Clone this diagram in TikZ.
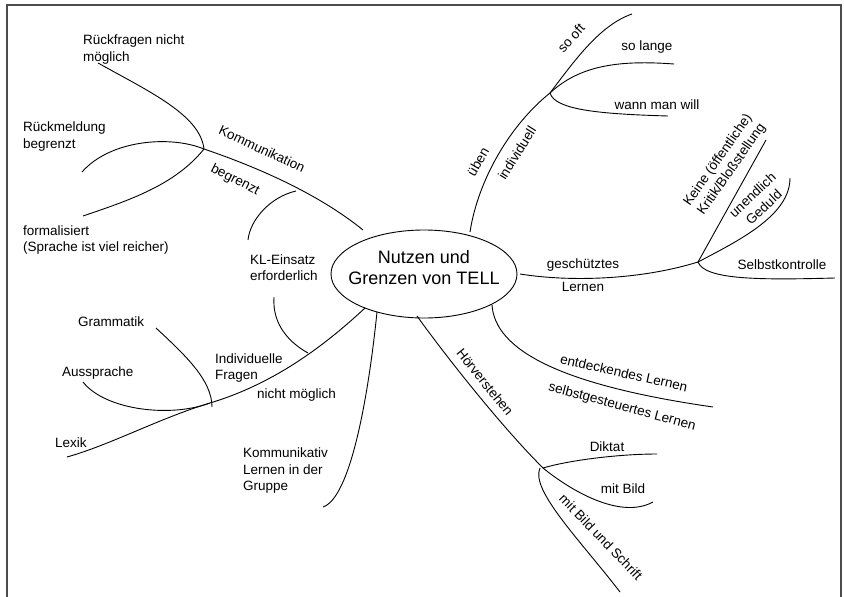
\documentclass[tikz,border=0pt]{standalone}
\usepackage{fontspec}
\setmainfont{Liberation Sans}
\usetikzlibrary{shapes.geometric}
\begin{document}
\begin{tikzpicture}[x=1pt,y=-1pt,
  branch/.style={draw=black, line width=0.9pt},
  lbl/.style={font=\fontsize{13.5}{16.5}\selectfont, inner sep=0pt, text=black},
  lblw/.style={lbl, anchor=west, align=left},
  lblc/.style={lbl, anchor=center, align=center},
  framebox/.style={draw=black!70, line width=1.6pt}]
\useasboundingbox (0,0) rectangle (844,597);
\draw[framebox] (7,597) -- (7,5) -- (841,5) -- (841,597);

% centre
\node[draw, ellipse, minimum width=186pt, minimum height=88pt, line width=0.9pt, inner sep=0pt] (c) at (424,274) {};
\node[font=\fontsize{18}{21}\selectfont, align=center, inner sep=0pt] (ct) at (424,267.5) {Nutzen und\\Grenzen von TELL};

% coordinates
\coordinate (k0) at (363,230);
\coordinate (kb) at (204,149);
\coordinate (rf) at (98,63);
\coordinate (rm) at (82,172);
\coordinate (fo) at (83,216);
\coordinate (kla) at (296,191);
\coordinate (klb) at (248,240);
\coordinate (klc) at (274,297);
\coordinate (kld) at (308,353);
\coordinate (i0) at (365,308);
\coordinate (ib) at (210,403);
\coordinate (lx) at (67,457);
\coordinate (gr) at (156,328);
\coordinate (au) at (83,382);
\coordinate (ko0) at (377,312);
\coordinate (ko1) at (323,507);
\coordinate (u0) at (470,232);
\coordinate (ub) at (550,93);
\coordinate (so) at (632,14);
\coordinate (sl) at (674,64);
\coordinate (wm) at (668,116);
\coordinate (g0) at (520,274);
\coordinate (gb) at (698,262);
\coordinate (ke) at (766,140);
\coordinate (ue) at (790,178);
\coordinate (sk) at (835,278);
\coordinate (e0) at (492,305);
\coordinate (e1) at (713,407);
\coordinate (h0) at (417,316);
\coordinate (hb) at (543,468);
\coordinate (hc) at (540,468);
\coordinate (di) at (657,454);
\coordinate (mb) at (653,502);
\coordinate (ms) at (620,592);

% Kommunikation
\draw[branch] (k0) .. controls (320,195) and (260,168) .. (kb);
\draw[branch] (rf) .. controls (150,92) and (200,115) .. (kb);
\draw[branch] (rm) .. controls (110,140) and (170,135) .. (kb);
\draw[branch] (fo) .. controls (130,200) and (175,185) .. (kb);
% KL-Einsatz
\draw[branch] (kla) .. controls (270,197) and (250,220) .. (klb);
\draw[branch] (klc) .. controls (272,325) and (290,343) .. (kld);
% Individuelle Fragen
\draw[branch] (i0) .. controls (320,350) and (270,385) .. (ib) .. controls (160,418) and (110,445) .. (lx);
\draw[branch] (gr) .. controls (185,355) and (212,380) .. (212,407);
\draw[branch] (au) .. controls (105,410) and (170,418) .. (ib);
% Kommunikativ
\draw[branch] (ko0) .. controls (368,400) and (350,498) .. (ko1);
% ueben
\draw[branch] (u0) .. controls (478,180) and (510,125) .. (ub);
\draw[branch] (ub) .. controls (575,60) and (600,25) .. (so);
\draw[branch] (ub) .. controls (580,65) and (620,60) .. (sl);
\draw[branch] (ub) .. controls (555,110) and (600,114) .. (wm);
% geschuetztes Lernen
\draw[branch] (g0) .. controls (570,282) and (640,280) .. (gb);
\draw[branch] (gb) -- (ke);
\draw[branch] (gb) .. controls (740,240) and (790,215) .. (ue);
\draw[branch] (gb) .. controls (705,280) and (760,280) .. (sk);
% entdeckendes
\draw[branch] (e0) .. controls (495,350) and (560,385) .. (e1);
% Hoerverstehen
\draw[branch] (h0) .. controls (445,355) and (500,425) .. (hb);
\draw[branch] (hb) .. controls (570,460) and (620,454) .. (di);
\draw[branch] (hb) .. controls (570,490) and (620,520) .. (mb);
\draw[branch] (hc) .. controls (530,490) and (580,540) .. (ms);

% labels
\node[lblw] (t1) at (83,49.5) {Rückfragen nicht\\möglich};
\node[lblw] (t2) at (23,136.5) {Rückmeldung\\begrenzt};
\node[lblw] (t3) at (23,240) {formalisiert\\(Sprache ist viel reicher)};
\node[lblc, rotate=-25] (t4) at (262,149) {Kommunikation};
\node[lblc, rotate=-27] (t5) at (235,180) {begrenzt};
\node[lblw] (t6) at (250,267.5) {KL-Einsatz\\erforderlich};
\node[lblw] (t7) at (78,322) {Grammatik};
\node[lblw] (t8) at (62,373) {Aussprache};
\node[lblw] (t9) at (55,443) {Lexik};
\node[lblw] (t10) at (215,368) {Individuelle\\Fragen};
\node[lblw] (t11) at (257,395) {nicht möglich};
\node[lblw] (t12) at (243,471) {Kommunikativ\\Lernen in der\\Gruppe};
\node[lblc, rotate=60] (t13) at (478,162) {üben};
\node[lblc, rotate=58] (t14) at (517,153) {individuell};
\node[lblc, rotate=48] (t15) at (571,38) {so oft};
\node[lblc] (t16) at (647,47) {so lange};
\node[lblc] (t17) at (657,105) {wann man will};
\node[lblc, rotate=55] (t18) at (725,165) {Keine (öffentliche)\\Kritik/Bloßstellung};
\node[lblc, rotate=43] (t19) at (758,201) {unendlich\\Geduld};
\node[lblc] (t20) at (782,265) {Selbstkontrolle};
\node[lblc] (t21) at (583,265) {geschütztes};
\node[lblc] (t22) at (583,287) {Lernen};
\node[lblc, rotate=-12.5] (t23) at (624,373) {entdeckendes Lernen};
\node[lblc, rotate=-15] (t24) at (622,407) {selbstgesteuertes Lernen};
\node[lblc, rotate=-51] (t25) at (485,382) {Hörverstehen};
\node[lblc] (t26) at (607,447) {Diktat};
\node[lblc] (t27) at (623,489) {mit Bild};
\node[lblc, rotate=-46] (t28) at (601,537) {mit Bild und Schrift};
\end{tikzpicture}
\end{document}
